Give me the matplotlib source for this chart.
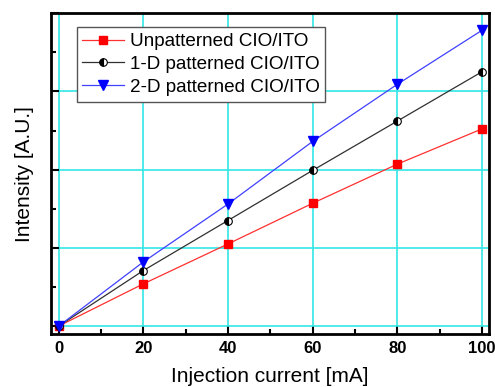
import numpy as np
import matplotlib.pyplot as plt

plt.rcParams['font.family'] = ['Liberation Sans', 'DejaVu Sans']

# data
current = [0, 20, 40, 60, 80, 100]
unpatterned = [0, 0.54, 1.05, 1.57, 2.07, 2.52]
patterned_1d = [0, 0.71, 1.35, 1.99, 2.62, 3.25]
patterned_2d = [0, 0.82, 1.56, 2.36, 3.09, 3.78]

fig = plt.figure(figsize=(4.95, 3.87), dpi=100)
ax = fig.add_axes([0.103, 0.137, 0.885, 0.829])

ax.plot(current, unpatterned, color='#ff3030', lw=0.9, marker='s', ms=5.5,
        mfc='red', mec='red', label='Unpatterned CIO/ITO')
ax.plot(current, patterned_1d, color='#303030', lw=0.9, marker='o', ms=5.5,
        fillstyle='left', mfc='black', mfcalt='white', mec='black', mew=0.8,
        label='1-D patterned CIO/ITO')
ax.plot(current, patterned_2d, color='#4040ff', lw=0.9, marker='v', ms=7.5,
        mfc='blue', mec='blue', label='2-D patterned CIO/ITO')

ax.set_xlim(-1.8, 101.7)
ax.set_ylim(-0.1, 4.0)
ax.set_xticks([0, 20, 40, 60, 80, 100])
ax.set_xticks([10, 30, 50, 70, 90], minor=True)
ax.set_yticks([0, 1, 2, 3, 4])
ax.set_yticks([0.5, 1.5, 2.5, 3.5], minor=True)
ax.set_yticklabels([])
ax.grid(True, which='major', color='#33e6e6', lw=1.2)
ax.set_axisbelow(True)

ax.tick_params(which='both', direction='in', width=1.5, top=False, right=False)
ax.tick_params(which='major', length=6, labelsize=12, pad=5)
ax.tick_params(which='minor', length=3.5)
for lbl in ax.get_xticklabels():
    lbl.set_fontweight('bold')
for s in ax.spines.values():
    s.set_linewidth(2)

ax.set_xlabel('Injection current [mA]', fontsize=15, labelpad=8)
ax.set_ylabel('Intensity [A.U.]', fontsize=15, labelpad=7)

leg = ax.legend(loc='upper left', bbox_to_anchor=(0.059, 0.956), fontsize=13.6,
                handlelength=2.2, handletextpad=0.3, borderpad=0.3, labelspacing=0.3,
                borderaxespad=0, fancybox=False, framealpha=1, edgecolor='#555555')
leg.get_frame().set_linewidth(1.0)

fig.savefig('out.png', dpi=100)
